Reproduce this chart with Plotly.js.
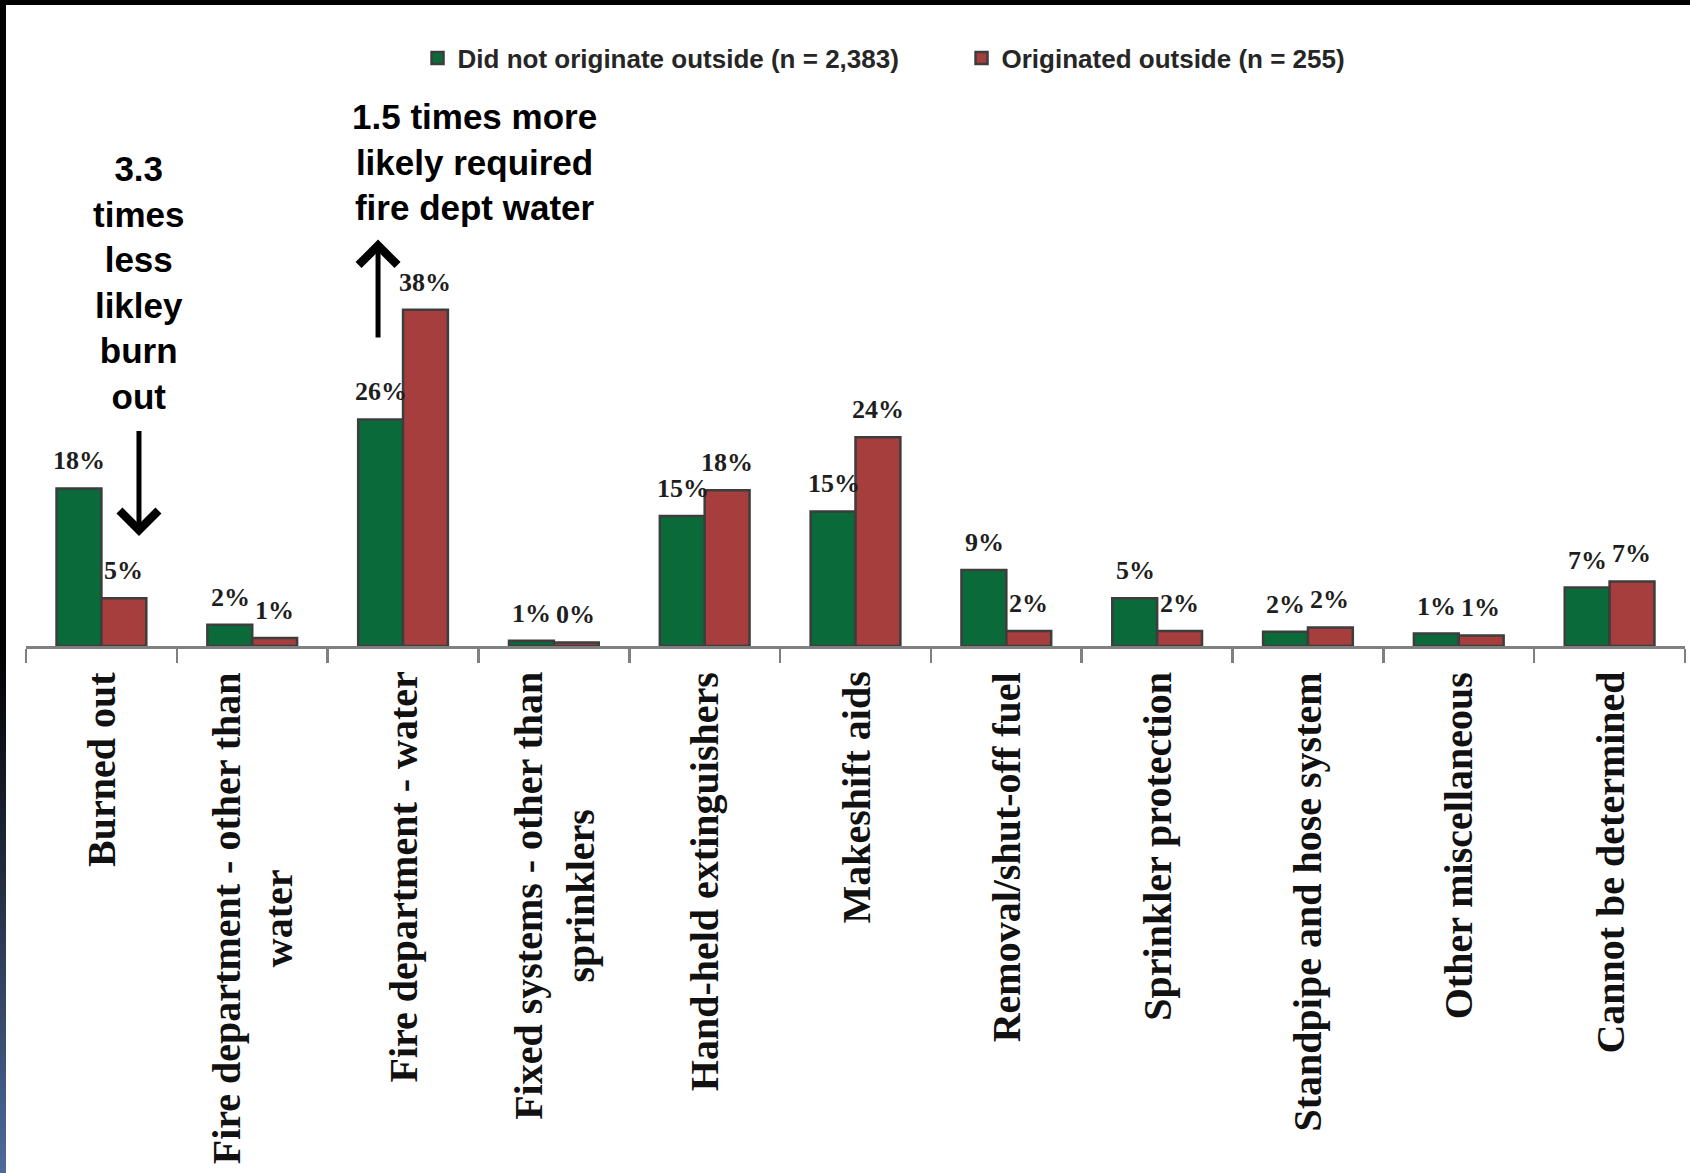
<!DOCTYPE html>
<html><head><meta charset="utf-8">
<script src="https://cdn.plot.ly/plotly-3.0.1.min.js"></script>
<style>
html,body{margin:0;padding:0;background:#fff;}
#wrap{position:relative;width:1690px;height:1173px;overflow:hidden;background:#fff;}
#topbar{position:absolute;left:0;top:0;width:1690px;height:5px;background:#000;}
#leftbar{position:absolute;left:0;top:0;width:6px;height:1173px;background:linear-gradient(to bottom,#000 0%,#000 55%,#1f2636 72%,#4e6a9c 100%);}
#chart{position:absolute;left:0;top:0;width:1690px;height:1173px;}
</style></head><body>
<div id="wrap"><div id="chart"></div><div id="topbar"></div><div id="leftbar"></div></div>
<script>
const categories = [
  "Burned out",
  "Fire department - other than water",
  "Fire department - water",
  "Fixed systems - other than sprinklers",
  "Hand-held extinguishers",
  "Makeshift aids",
  "Removal/shut-off fuel",
  "Sprinkler protection",
  "Standpipe and hose system",
  "Other miscellaneous",
  "Cannot be determined"
];
const categoryLabels = [
  "Burned out",
  "Fire department - other than<br>water",
  "Fire department - water",
  "Fixed systems - other than<br>sprinklers",
  "Hand-held extinguishers",
  "Makeshift aids",
  "Removal/shut-off fuel",
  "Sprinkler protection",
  "Standpipe and hose system",
  "Other miscellaneous",
  "Cannot be determined"
];
const seriesNames = ["Did not originate outside (n = 2,383)", "Originated outside (n = 255)"];
const didNotOriginate = [17.8, 2.4, 25.6, 0.6, 14.7, 15.2, 8.6, 5.4, 1.6, 1.4, 6.6];
const originatedOutside = [5.4, 0.9, 38.0, 0.4, 17.6, 23.6, 1.7, 1.7, 2.1, 1.2, 7.3];
const didNotLabels = ["18%", "2%", "26%", "1%", "15%", "15%", "9%", "5%", "2%", "1%", "7%"];
const originatedLabels = ["5%", "1%", "38%", "0%", "18%", "24%", "2%", "2%", "2%", "1%", "7%"];
const calloutLeft = "3.3<br>times<br>less<br>likley<br>burn<br>out";
const calloutMid = "1.5 times more<br>likely required<br>fire dept water";

const green = "#0b6a3a", red = "#a63e3e", edge = "#3d3d3d";

const traces = [
  {type: "bar", name: seriesNames[0], x: categories, y: didNotOriginate,
   marker: {color: green, line: {color: edge, width: 2.5}}, hoverinfo: "skip"},
  {type: "bar", name: seriesNames[1], x: categories, y: originatedOutside,
   marker: {color: red, line: {color: edge, width: 2.5}}, hoverinfo: "skip"}
];

const labelFont = {family: "Liberation Serif, Times New Roman, serif", size: 26, color: "#1e1e1e", weight: "bold"};
const annotations = [];
categories.forEach((c, i) => {
  annotations.push({x: c, y: didNotOriginate[i], xref: "x", yref: "y", text: didNotLabels[i],
    showarrow: false, xanchor: "center", yanchor: "bottom", xshift: -22, yshift: 11, font: labelFont});
  annotations.push({x: c, y: originatedOutside[i], xref: "x", yref: "y", text: originatedLabels[i],
    showarrow: false, xanchor: "center", yanchor: "bottom", xshift: 22, yshift: 11, font: labelFont});
  annotations.push({x: c, y: 0, xref: "x", yref: "paper", text: categoryLabels[i], textangle: -90,
    showarrow: false, xanchor: "center", yanchor: "top", yshift: -24, align: "center",
    font: {family: "Liberation Serif, Times New Roman, serif", size: 40, color: "#111", weight: "bold"}});
});
const calloutFont = {family: "Liberation Sans, Arial, sans-serif", size: 35, color: "#000", weight: "bold"};
annotations.push({x: 0.0681, y: 1.026, xref: "paper", yref: "paper", text: calloutLeft, showarrow: false,
  xanchor: "center", yanchor: "middle", align: "center", font: calloutFont});
annotations.push({x: 0.2706, y: 1.366, xref: "paper", yref: "paper", text: calloutMid, showarrow: false,
  xanchor: "center", yanchor: "middle", align: "center", font: calloutFont});
annotations.push({x: 0.0681, y: 0.3107, xref: "paper", yref: "paper", text: " ", font: {size: 1},
  showarrow: true, ax: 0, ay: -107, arrowhead: 4, arrowsize: 1.5, arrowwidth: 5, arrowcolor: "#000", standoff: 0});
annotations.push({x: 0.2122, y: 1.148, xref: "paper", yref: "paper", text: " ", font: {size: 1},
  showarrow: true, ax: 0, ay: 100, arrowhead: 4, arrowsize: 1.5, arrowwidth: 5, arrowcolor: "#000", standoff: 0});

const layout = {
  width: 1690, height: 1173,
  margin: {l: 26, r: 5, t: 292, b: 527},
  paper_bgcolor: "rgba(0,0,0,0)", plot_bgcolor: "rgba(0,0,0,0)",
  barmode: "group", bargap: 0.405, bargroupgap: 0,
  showlegend: true,
  legend: {orientation: "h", x: 0.2360, xanchor: "left", y: 1.661, yanchor: "middle",
    font: {family: "Liberation Sans, Arial, sans-serif", size: 26, color: "#262626", weight: "bold"},
    entrywidth: 499, bgcolor: "rgba(0,0,0,0)"},
  xaxis: {type: "category", categoryarray: categories, range: [-0.5, 10.5], showticklabels: false,
    tickson: "boundaries", ticks: "outside", ticklen: 14, tickwidth: 2.5, tickcolor: "#808080",
    showline: true, linecolor: "#808080", linewidth: 2.5, showgrid: false, zeroline: false, fixedrange: true},
  yaxis: {visible: false, range: [0, 40], fixedrange: true},
  annotations: annotations
};
Plotly.newPlot("chart", traces, layout, {displayModeBar: false, staticPlot: true});
</script>
</body></html>
